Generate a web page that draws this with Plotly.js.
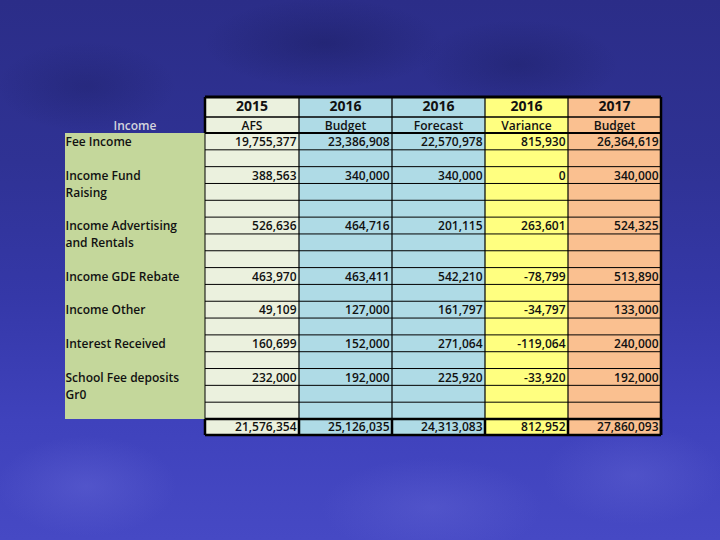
<!DOCTYPE html>
<html><head><meta charset="utf-8">
<script src="https://cdn.plot.ly/plotly-3.0.1.min.js"></script>
<style>
html,body{margin:0;padding:0;width:720px;height:540px;overflow:hidden;}
body{
  background:
    radial-gradient(ellipse 90px 50px at 12% 90%, rgba(110,112,220,0.35), rgba(110,112,220,0) 100%),
    radial-gradient(ellipse 110px 50px at 60% 94%, rgba(110,112,220,0.3), rgba(110,112,220,0) 100%),
    radial-gradient(ellipse 90px 50px at 88% 88%, rgba(110,112,220,0.3), rgba(110,112,220,0) 100%),
    radial-gradient(ellipse 120px 45px at 45% 8%, rgba(20,22,80,0.35), rgba(20,22,80,0) 100%),
    radial-gradient(ellipse 100px 45px at 72% 12%, rgba(20,22,80,0.3), rgba(20,22,80,0) 100%),
    radial-gradient(ellipse 90px 45px at 12% 16%, rgba(20,22,80,0.25), rgba(20,22,80,0) 100%),
    linear-gradient(to bottom, #2b2d88 0%, #2f3294 30%, #3538a8 55%, #3f42bc 78%, #4649c4 100%);
}
#chart{width:720px;height:540px;}
</style></head><body><div id="chart"></div>
<script>
// ---- data ----
const years = ['2015', '2016', '2016', '2016', '2017'];
const subtitles = ['AFS', 'Budget', 'Forecast', 'Variance', 'Budget'];
const rowHeader = 'Income';
const labelLines = [
  ['Fee Income'],
  ['Income Fund', 'Raising'],
  ['Income Advertising', 'and Rentals'],
  ['Income GDE Rebate'],
  ['Income Other'],
  ['Interest Received'],
  ['School Fee deposits', 'Gr0']
];
const afs2015 = [19755377, 388563, 526636, 463970, 49109, 160699, 232000];
const budget2016 = [23386908, 340000, 464716, 463411, 127000, 152000, 192000];
const forecast2016 = [22570978, 340000, 201115, 542210, 161797, 271064, 225920];
const variance2016 = [815930, 0, 263601, -78799, -34797, -119064, -33920];
const budget2017 = [26364619, 340000, 524325, 513890, 133000, 240000, 192000];
const totals = [21576354, 25126035, 24313083, 812952, 27860093];

// ---- layout geometry (pixel grid) ----
const colEdges = [65, 205, 299, 392, 485, 568, 661];
const headTop = 97, headMid = 117, dataTop = 133, dataBottom = 419, totalBottom = 435;
const textShift = 1.8;
const columns = [afs2015, budget2016, forecast2016, variance2016, budget2017];
const colColor = [1, 2, 2, 3, 4]; // fill index per value column

// slot rows for each item
const startRow = [];
let r = 0;
labelLines.forEach(l => { startRow.push(r); r += l.length + 1; });
const nData = r; // 17
const rh = (dataBottom - dataTop) / nData;

// heatmap cell fills
const yEdges = [headTop, headMid, dataTop];
for (let i = 1; i <= nData; i++) yEdges.push(dataTop + i * rh);
yEdges.push(totalBottom);
const z = [];
for (let row = 0; row < yEdges.length - 1; row++) {
  const isHead = row < 2, isTotal = row === yEdges.length - 2;
  const line = [(isHead || isTotal) ? null : 0];
  colColor.forEach(c => line.push(c));
  z.push(line);
}
const G = '#c4d79b', P = '#ebf1de', B = '#afdbe6', Y = '#ffff80', O = '#fac090';
const cs = [[0, G], [0.125, G], [0.125, P], [0.375, P], [0.375, B], [0.625, B], [0.625, Y], [0.875, Y], [0.875, O], [1, O]];

const fmt = v => v.toLocaleString('en-US');
const rowMid = i => dataTop + (i + 0.5) * rh + textShift;

// numbers
const nx = [], ny = [], nt = [];
columns.forEach((col, ci) => {
  col.forEach((v, k) => { nx.push(colEdges[ci + 2] - 2.5); ny.push(rowMid(startRow[k])); nt.push(fmt(v)); });
  nx.push(colEdges[ci + 2] - 2.5); ny.push((dataBottom + totalBottom) / 2 + 0.5); nt.push(fmt(totals[ci]));
});
// labels
const lx = [], ly = [], lt = [];
labelLines.forEach((lines, k) => lines.forEach((s, j) => { lx.push(colEdges[0] + 0.5); ly.push(rowMid(startRow[k] + j)); lt.push(s); }));
// headers
const hx = [], hy = [], ht = [], sx = [], sy = [], st = [];
years.forEach((y, i) => { hx.push((colEdges[i + 1] + colEdges[i + 2]) / 2); hy.push((headTop + headMid) / 2 + 0.5); ht.push(y); });
subtitles.forEach((s, i) => { sx.push((colEdges[i + 1] + colEdges[i + 2]) / 2); sy.push((headMid + dataTop) / 2 + 1.5); st.push(s); });

const fontFam = 'Open Sans, Liberation Sans, sans-serif';
const traces = [
  { type: 'heatmap', x: colEdges, y: yEdges, z: z, zmin: 0, zmax: 4, colorscale: cs, showscale: false, hoverinfo: 'skip', zsmooth: false },
  { type: 'scatter', mode: 'text', x: nx, y: ny, text: nt, textposition: 'middle left', cliponaxis: false, hoverinfo: 'skip',
    textfont: { family: fontFam, size: 12, color: '#111', weight: 600 } },
  { type: 'scatter', mode: 'text', x: lx, y: ly, text: lt, textposition: 'middle right', cliponaxis: false, hoverinfo: 'skip',
    textfont: { family: fontFam, size: 12, color: '#111', weight: 600 } },
  { type: 'scatter', mode: 'text', x: hx, y: hy, text: ht, textposition: 'middle center', cliponaxis: false, hoverinfo: 'skip',
    textfont: { family: fontFam, size: 14, color: '#111', weight: 700 } },
  { type: 'scatter', mode: 'text', x: sx, y: sy, text: st, textposition: 'middle center', cliponaxis: false, hoverinfo: 'skip',
    textfont: { family: fontFam, size: 12, color: '#111', weight: 600 } },
  { type: 'scatter', mode: 'text', x: [(colEdges[0] + colEdges[1]) / 2], y: [(headMid + dataTop) / 2 + 1.5], text: [rowHeader],
    textposition: 'middle center', cliponaxis: false, hoverinfo: 'skip',
    textfont: { family: fontFam, size: 12, color: '#d4d5de', weight: 600 } }
];

// grid lines
const shapes = [];
const ln = (x0, y0, x1, y1, w) => shapes.push({ type: 'line', xref: 'x', yref: 'y', x0, y0, x1, y1, line: { color: '#000', width: w } });
const L = colEdges[1], R = colEdges[colEdges.length - 1];
for (let i = 1; i < nData; i++) ln(L, dataTop + i * rh, R, dataTop + i * rh, 1);
for (let c = 2; c < colEdges.length - 1; c++) ln(colEdges[c], headTop, colEdges[c], dataBottom, 1.2);
ln(L, dataTop, L, dataBottom, 1);
ln(R, headTop, R, totalBottom, 2.5);
// header block
ln(L, headTop, R, headTop, 3);
ln(L, headMid, R, headMid, 1.5);
ln(L, dataTop, R, dataTop, 2);
ln(L, headTop, L, dataTop, 2.5);
// total row cells
ln(L, dataBottom, R, dataBottom, 2.5);
ln(L, totalBottom, R, totalBottom, 2.5);
for (let c = 1; c < colEdges.length; c++) ln(colEdges[c], dataBottom, colEdges[c], totalBottom, 2.5);

const layout = {
  width: 720, height: 540, margin: { l: 0, r: 0, t: 0, b: 0 },
  paper_bgcolor: 'rgba(0,0,0,0)', plot_bgcolor: 'rgba(0,0,0,0)',
  xaxis: { range: [0, 720], visible: false, fixedrange: true },
  yaxis: { range: [540, 0], visible: false, fixedrange: true },
  showlegend: false, shapes: shapes
};
Plotly.newPlot('chart', traces, layout, { staticPlot: true, displayModeBar: false });
</script>
</body></html>
